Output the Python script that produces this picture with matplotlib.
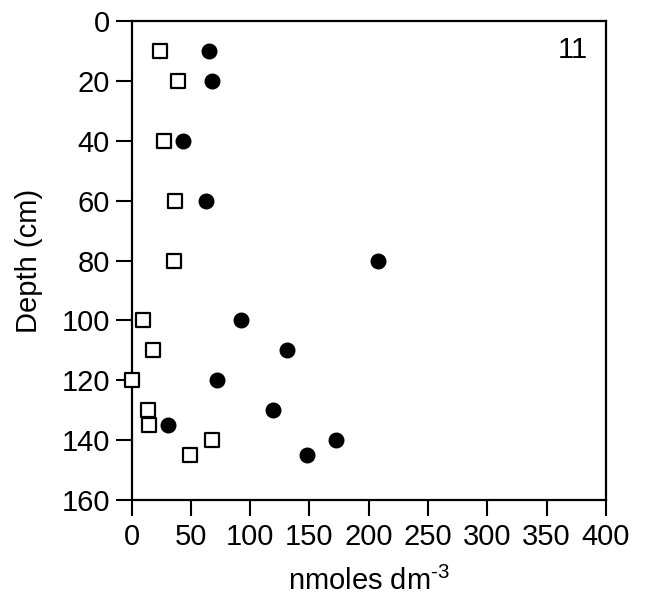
import matplotlib
matplotlib.use("Agg")
import matplotlib.pyplot as plt

plt.rcParams['font.family'] = ['Liberation Sans', 'DejaVu Sans']
plt.rcParams['mathtext.fontset'] = 'custom'
plt.rcParams['mathtext.rm'] = 'Liberation Sans'
plt.rcParams['mathtext.default'] = 'regular'

# Data
depth_circle = [10, 20, 40, 60, 80, 100, 110, 120, 130, 135, 140, 145]
conc_circle = [65, 68, 43, 63, 208, 92, 131, 72, 119, 31, 172, 148]

depth_square = [10, 20, 40, 60, 80, 100, 110, 120, 130, 135, 140, 145]
conc_square = [24, 39, 27, 37, 36, 10, 18, 0, 14, 15, 68, 49]

xticks = [0, 50, 100, 150, 200, 250, 300, 350, 400]
yticks = [0, 20, 40, 60, 80, 100, 120, 140, 160]

fig = plt.figure(figsize=(6.48, 6.16), dpi=100)
ax = fig.add_axes([0.203, 0.188, 0.732, 0.778])

ax.scatter(conc_square, depth_square, marker='s', s=95, facecolors='white',
           edgecolors='black', linewidths=1.6, zorder=3, clip_on=False)
ax.scatter(conc_circle, depth_circle, marker='o', s=110, facecolors='black',
           edgecolors='black', zorder=3, clip_on=False)

ax.set_xlim(0, 400)
ax.set_ylim(160, 0)
ax.set_xticks(xticks)
ax.set_yticks(yticks)
ax.tick_params(direction='out', length=11.5, width=1.5, labelsize=21, pad=4)
ax.tick_params(axis='x', pad=5)
for sp in ax.spines.values():
    sp.set_linewidth(1.6)

ax.set_xlabel('nmoles dm$^{\\text{-3}}$', fontsize=21, labelpad=11)
ax.set_ylabel('Depth (cm)', fontsize=21, labelpad=13)
ax.text(0.93, 0.94, '11', transform=ax.transAxes, fontsize=21, ha='center', va='center')

fig.savefig('out.png', dpi=100)
